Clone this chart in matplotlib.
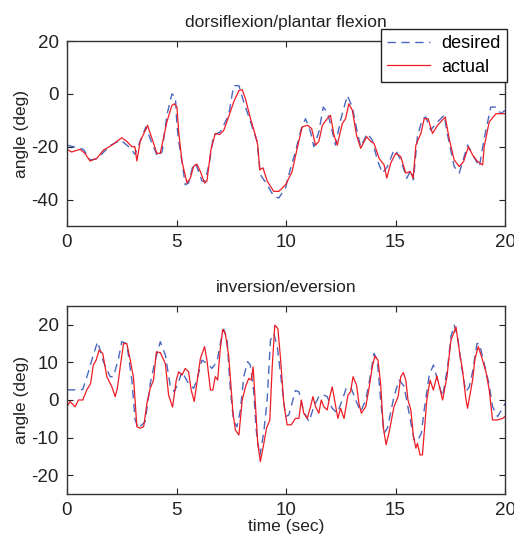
import matplotlib
matplotlib.use("Agg")
import matplotlib.pyplot as plt

plt.rcParams['font.family'] = ['Liberation Sans', 'DejaVu Sans']
plt.rcParams['axes.unicode_minus'] = False

# ---- top: dorsiflexion / plantar flexion ----
top_des_t = [0, 0.3, 0.75, 1.05, 1.36, 2.0, 2.46, 2.9, 3.1, 3.34, 3.6, 3.88, 4.14, 4.34, 4.56, 4.79, 4.95, 5.02, 5.1, 5.25,
             5.4, 5.55, 5.78, 5.93, 6.16, 6.31, 6.51, 6.69, 7.0, 7.38, 7.61, 7.85, 8.07, 8.38, 8.68, 8.83, 9.14, 9.44,
             9.67, 9.98, 10.13, 10.43, 10.7, 10.89, 11.12, 11.27, 11.5, 11.7, 11.88, 12.03, 12.26, 12.49, 12.8, 13.03,
             13.25, 13.41, 13.71, 13.94, 14.17, 14.4, 14.63, 14.93, 15.0, 15.24, 15.51, 15.72, 15.82, 16.0, 16.23,
             16.38, 16.61, 16.84, 17.22, 17.38, 17.68, 17.91, 18.29, 18.52, 18.83, 19.05, 19.35, 19.59, 19.81, 20.0]
top_des_v = [-19.4, -20, -21, -25, -24.6, -19.4, -17.5, -20.6, -22.9, -17.9, -12.5, -18.75, -23.75, -21.9, -8.1, 0, -1.25,
             -11.9, -18, -25.6, -34.4, -33.75, -26.25, -27.5, -33, -33, -25.6, -15.6, -14.4, -8.1, 3.1, 3.1, -3.1, -10.6,
             -18, -30.6, -34.4, -38.75, -39.4, -35.6, -30.6, -21.9, -13.1, -9.4, -14.4, -20, -14.4, -5, -6.9, -11.25,
             -19.4, -10, -0.6, -5, -14.4, -20, -15, -17.5, -25, -30, -27.5, -21.25, -21.25, -25, -31.9, -28.75, -32.5,
             -16.25, -9.4, -8.75, -13.75, -11.25, -8.1, -15.6, -27.5, -30, -19.4, -23.1, -27.5, -16.9, -5, -5, -7.5,
             -6.25]
top_act_t = [0, 0.21, 0.6, 0.82, 1.05, 1.36, 1.66, 2.05, 2.5, 2.73, 2.96, 3.1, 3.19, 3.34, 3.68, 3.88, 4.1, 4.26, 4.56,
             4.79, 4.9, 5.02, 5.1, 5.25, 5.48, 5.63, 5.78, 5.93, 6.09, 6.28, 6.39, 6.57, 6.77, 6.97, 7.16, 7.38, 7.61,
             7.85, 8.0, 8.15, 8.38, 8.6, 8.71, 8.8, 8.95, 9.14, 9.44, 9.67, 9.98, 10.28, 10.51, 10.74, 10.97, 11.17,
             11.35, 11.5, 11.66, 11.88, 12.03, 12.19, 12.34, 12.57, 12.72, 12.87, 13.03, 13.22, 13.41, 13.68, 13.87,
             14.02, 14.25, 14.48, 14.6, 14.78, 15.01, 15.24, 15.47, 15.67, 15.81, 15.93, 16.16, 16.31, 16.49, 16.69,
             16.92, 17.27, 17.45, 17.68, 17.91, 18.11, 18.33, 18.52, 18.72, 18.98, 19.05, 19.28, 19.59, 20.0]
top_act_v = [-21, -22, -21, -22.5, -25.4, -24.4, -21.3, -19.4, -16.6, -18, -20, -20, -25.4, -18, -11.9, -16.9, -22.5,
             -22.5, -10.6, -4.4, -3.75, -5, -14.4, -25.6, -33.75, -31.9, -27.5, -26.6, -29.4, -33.75, -33, -21.25, -15,
             -15.4, -13.75, -8.75, -3.1, 1.25, 1.6, -1.9, -9.4, -15.6, -19.4, -28.75, -28, -33, -36.9, -36.9, -34.4,
             -29.4, -20.6, -12.5, -11.9, -13.1, -19.4, -18, -11.9, -9.4, -8.1, -15.6, -19.4, -11.25, -9.4, -3.75, -6.25,
             -15.6, -20.6, -16.25, -18, -18.75, -24.4, -26.9, -31.9, -26.25, -22.5, -23.75, -30, -29.4, -31.9, -19.4,
             -15, -9.4, -9.4, -15, -11.9, -8.75, -16.9, -25, -27.5, -25.6, -20, -23.1, -25.4, -26.9, -20, -10.6, -7.5,
             -7.5]

# ---- bottom: inversion / eversion ----
bot_des_t = [0, 0.37, 0.72, 0.98, 1.2, 1.4, 1.66, 1.97, 2.12, 2.35, 2.5, 2.73, 2.96, 3.11, 3.26, 3.57, 3.8, 4.03, 4.26,
             4.49, 4.72, 4.9, 5.1, 5.25, 5.55, 5.78, 5.93, 6.16, 6.39, 6.62, 6.85, 7.03, 7.16, 7.31, 7.46, 7.61, 7.76,
             7.92, 8.07, 8.25, 8.37, 8.52, 8.64, 8.8, 8.98, 9.14, 9.29, 9.44, 9.6, 9.82, 9.98, 10.13, 10.43, 10.59,
             10.81, 11.05, 11.27, 11.5, 11.66, 11.88, 12.11, 12.34, 12.57, 12.77, 12.98, 13.18, 13.41, 13.64, 13.79,
             14.02, 14.17, 14.32, 14.48, 14.63, 14.93, 15.16, 15.39, 15.62, 15.85, 16.0, 16.18, 16.31, 16.54, 16.73,
             16.92, 17.15, 17.38, 17.53, 17.68, 17.84, 17.99, 18.21, 18.37, 18.52, 18.72, 18.83, 19.05, 19.28, 19.43,
             19.66, 19.89, 20.0]
bot_des_v = [2.7, 2.7, 2.8, 7.5, 12, 15.5, 10.2, 6.2, 6.2, 11, 15.5, 15, 5.3, -5.3, -7.5, -5.75, 4.4, 10.6, 15.5, 12,
             3.5, 2.2, 4.9, 7.5, 4.4, 3.1, 5.3, 10.6, 9.7, 8.4, 10.2, 15.9, 18.8, 15.9, 2.65, -5.75, -7.1, -2.65, 6.2,
             10.2, 9.3, 2.65, -8, -15, -8.8, 0, 15.9, 17.7, 14.2, 3.5, -4.4, -4, 2.5, 2.2, -3.1, -5.75, -1.8, 0.9, 1.5,
             0.9, -2.2, -3.5, 0, 3.5, 3.1, 0, -3.1, 0, 4.4, 12.4, 10.6, 0, -8.8, -7.5, 0.9, 5.3, 3.7, -3.5, -10.6, -11,
             -8.8, -2.65, 6.6, 9.3, 5.3, 0.9, 8.8, 16.8, 19.9, 16.8, 9.7, 2.2, 3.5, 7.5, 15, 15, 9.7, 4, -1.8, -4.4,
             -2.2, -0.9]
bot_act_t = [0, 0.14, 0.37, 0.52, 0.72, 0.9, 1.08, 1.2, 1.33, 1.47, 1.63, 1.82, 2.05, 2.2, 2.3, 2.43, 2.58, 2.73, 2.89,
             3.04, 3.19, 3.34, 3.5, 3.65, 3.8, 3.95, 4.08, 4.26, 4.49, 4.64, 4.82, 4.99, 5.1, 5.25, 5.4, 5.55, 5.67,
             5.81, 5.93, 6.09, 6.28, 6.39, 6.55, 6.66, 6.77, 6.88, 7.0, 7.11, 7.23, 7.38, 7.49, 7.58, 7.69, 7.85, 8.0,
             8.15, 8.3, 8.41, 8.5, 8.61, 8.71, 8.83, 8.96, 9.11, 9.26, 9.37, 9.49, 9.63, 9.75, 9.9, 10.05, 10.24, 10.43,
             10.59, 10.7, 10.81, 10.97, 11.12, 11.23, 11.35, 11.5, 11.61, 11.73, 11.88, 12.0, 12.11, 12.22, 12.37,
             12.49, 12.65, 12.83, 12.95, 13.06, 13.22, 13.33, 13.44, 13.64, 13.79, 13.94, 14.06, 14.2, 14.32, 14.44,
             14.57, 14.7, 14.93, 15.12, 15.24, 15.36, 15.47, 15.57, 15.7, 15.82, 15.93, 16.0, 16.12, 16.23, 16.31,
             16.43, 16.58, 16.73, 16.89, 17.04, 17.15, 17.35, 17.53, 17.68, 17.76, 17.91, 18.06, 18.21, 18.29, 18.52,
             18.63, 18.78, 18.93, 19.13, 19.28, 19.43, 19.66, 19.89, 20.0]
bot_act_v = [-1.8, -0.4, -1.8, 0, 0, 2.65, 4.4, 9.3, 10.6, 13.3, 12.4, 6.2, 3.5, 0.9, 3.1, 8.8, 15, 15, 10.6, 5.75, -7.1,
             -7.5, -7.1, -0.9, 3.1, 5.3, 12.8, 12.6, 9.7, 1.3, -1.9, 5.3, 7.5, 6.6, 8.4, 7.5, 2.65, -0.4, 4.4, 11, 14.2,
             10.6, 2.65, 2.65, 6.2, 5.3, 13.7, 18.8, 17.7, 11.9, 3.5, -3.5, -8, -9.3, 0, 3.5, 5.75, 5.3, 8.8, -1.8,
             -11.5, -16.4, -12.4, -7.5, -5.3, 8.8, 19.9, 19, 11, -0.9, -6.6, -6.6, -4.9, -4.9, 0, -3.5, -4.9, -1.8, 0.9,
             -1.8, -3.5, 0, -1.8, -2.65, 0.9, 3.5, 0, -4.9, -2.2, -4.9, 1.3, 2.2, 6.2, 4, -0.9, -3.5, -1.8, 3.1, 8.8,
             11.7, 10.6, 4.4, -7.1, -11.9, -8.8, -1.8, 0.9, 6.2, 7.3, 5.3, 0, -2.65, -9.7, -12.8, -11.5, -14.6, -14.6,
             -8.8, 0, 5.3, 2.65, 6.4, 2.65, 0, 6.2, 15.9, 18.1, 19.5, 13.3, 8, 0.4, -2.2, 5.3, 11, 14.2, 11.5, 7.5,
             2.65, -5.3, -5.3, -4.9, -4.4]

titles = ["dorsiflexion/plantar flexion", "inversion/eversion"]
legend_labels = ["desired", "actual"]
top_yticks = [-40, -20, 0, 20]
bot_yticks = [-20, -10, 0, 10, 20]
xticks = [0, 5, 10, 15, 20]

BLUE = '#4a68c0'
RED = '#ee1c25'
FS = 13.5

fig = plt.figure(figsize=(5.14, 5.40), dpi=100)
ax1 = fig.add_axes([67/514, 1-226/540, (505-67)/514, (226-41)/540])
ax2 = fig.add_axes([67/514, 1-494/540, (505-67)/514, (494-306)/540])

for ax, (dt, dv, at, av), title, ylim, yt in [
        (ax1, (top_des_t, top_des_v, top_act_t, top_act_v), titles[0], (-50, 20), top_yticks),
        (ax2, (bot_des_t, bot_des_v, bot_act_t, bot_act_v), titles[1], (-25, 25), bot_yticks)]:
    ax.plot(dt, dv, color=BLUE, lw=1.0, dashes=(6, 4), label=legend_labels[0],
            solid_joinstyle='round', dash_joinstyle='round')
    ax.plot(at, av, color=RED, lw=0.9, label=legend_labels[1], solid_joinstyle='round')
    ax.set_xlim(0, 20)
    ax.set_ylim(*ylim)
    ax.set_xticks(xticks)
    ax.set_yticks(yt)
    ax.tick_params(direction='in', top=True, right=True, length=4, width=0.8,
                   labelsize=FS, colors='#222222', pad=6)
    for s in ax.spines.values():
        s.set_linewidth(1.0)
        s.set_color('#333333')
    ax.set_title(title, fontsize=12.5, color='#222222', pad=10)
    ax.set_ylabel("angle (deg)", fontsize=12.5, color='#222222', labelpad=2)

ax2.set_xlabel("time (sec)", fontsize=12.5, color='#222222', labelpad=0)

leg = ax1.legend(loc='upper right', bbox_to_anchor=(507/514, 1-29/540),
                 bbox_transform=fig.transFigure, fontsize=13, frameon=True,
                 fancybox=False, edgecolor='#222222', framealpha=1,
                 handlelength=2.4, borderpad=0.35, labelspacing=0.35, handletextpad=0.6,
                 borderaxespad=0)
leg.get_frame().set_linewidth(1.0)
leg.set_zorder(10)

fig.savefig("out.png", dpi=100, facecolor='white')
